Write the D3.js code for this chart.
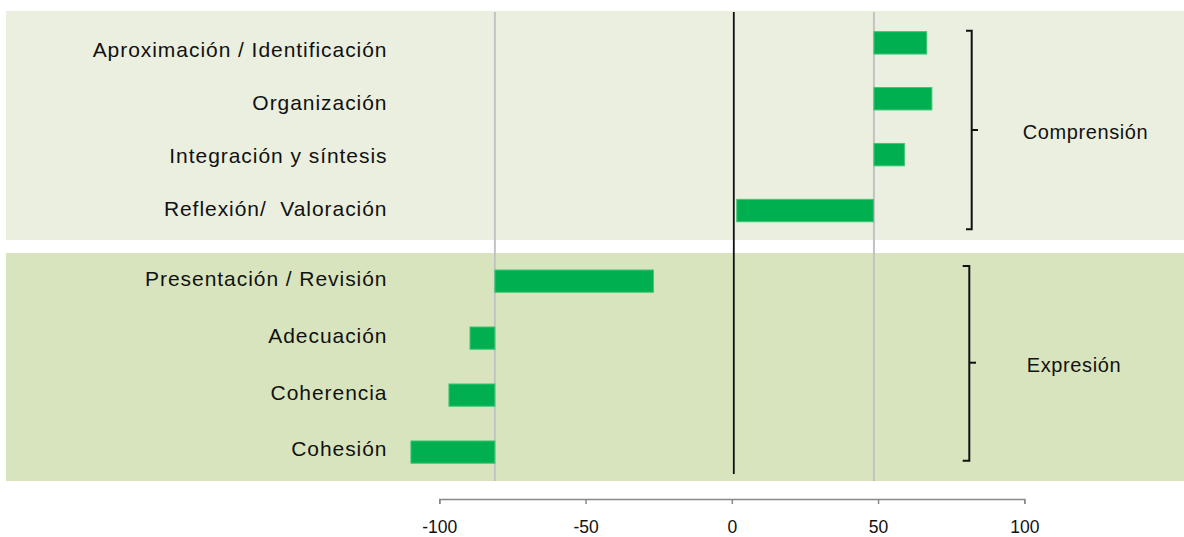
<!DOCTYPE html>
<html>
<head>
<meta charset="utf-8">
<script src="https://cdn.jsdelivr.net/npm/d3@7"></script>
<style>
  html, body { margin: 0; padding: 0; background: #fff; }
  svg { display: block; }
  text { font-family: "Liberation Sans", Arial, sans-serif; fill: #111; }
</style>
</head>
<body>
<svg id="chart" width="1184" height="537"></svg>
<script>
// ---- Data ----
const categoriesTop = ["Aproximación / Identificación", "Organización", "Integración y síntesis", "Reflexión/  Valoración"];
const startTop = [48.6, 48.6, 48.6, 1.7];
const endTop = [66.6, 68.4, 59.0, 48.4];

const categoriesBottom = ["Presentación / Revisión", "Adecuación", "Coherencia", "Cohesión"];
const startBottom = [-81, -89.5, -96.7, -109.7];
const endBottom = [-26.8, -81, -81, -81];

const groupLabels = ["Comprensión", "Expresión"];
const referenceLines = [-81, 48.6];
const xTicks = [-100, -50, 0, 50, 100];

// ---- Layout ----
const W = 1184, H = 537;
const svg = d3.select("#chart");

const x = d3.scaleLinear().domain([-100, 100]).range([439.3, 1024.3]);

const yTop = d3.scaleBand().domain(categoriesTop).range([14.9, 238.5])
  .paddingInner(0.6).paddingOuter(0.3);
const yBot = d3.scaleBand().domain(categoriesBottom).range([252.9, 480.3])
  .paddingInner(0.61).paddingOuter(0.3);

// label positions (category axis text)
const yTopLabel = d3.scalePoint().domain(categoriesTop).range([49.7, 208.4]);
const yBotLabel = d3.scalePoint().domain(categoriesBottom).range([278.3, 448.9]);

// panels
svg.append("rect").attr("x", 6).attr("y", 11).attr("width", W - 6).attr("height", 229)
  .attr("fill", "#EBEFDF");
svg.append("rect").attr("x", 6).attr("y", 253).attr("width", W - 6).attr("height", 228)
  .attr("fill", "#D8E4BD");

// reference lines
svg.selectAll("line.ref").data(referenceLines).join("line")
  .attr("class", "ref")
  .attr("x1", d => x(d)).attr("x2", d => x(d))
  .attr("y1", 12).attr("y2", 481)
  .attr("stroke", "#C3C3C3").attr("stroke-width", 2);

// zero line
svg.append("line")
  .attr("x1", x(0) + 2).attr("x2", x(0) + 2)
  .attr("y1", 12).attr("y2", 474)
  .attr("stroke", "#111").attr("stroke-width", 1.8);

// bars
function drawBars(cats, starts, ends, y) {
  const data = cats.map((c, i) => ({ c, s: starts[i], e: ends[i] }));
  svg.append("g").selectAll("rect").data(data).join("rect")
    .attr("x", d => x(Math.min(d.s, d.e)))
    .attr("width", d => Math.abs(x(d.e) - x(d.s)))
    .attr("y", d => y(d.c))
    .attr("height", y.bandwidth())
    .attr("fill", "#00B050")
    .attr("stroke", "#3DC575")
    .attr("stroke-width", 1);
}
drawBars(categoriesTop, startTop, endTop, yTop);
drawBars(categoriesBottom, startBottom, endBottom, yBot);

// category labels
function drawLabels(cats, y) {
  svg.append("g").selectAll("text").data(cats).join("text")
    .attr("x", 387.5)
    .attr("y", d => y(d))
    .attr("text-anchor", "end")
    .attr("dominant-baseline", "central")
    .attr("font-size", "21px")
    .attr("letter-spacing", "0.95px")
    .style("white-space", "pre")
    .text(d => d);
}
drawLabels(categoriesTop, yTopLabel);
drawLabels(categoriesBottom, yBotLabel);

// brackets
function bracket(xv, y0, y1, ym, serifLeft, tickRight) {
  svg.append("path")
    .attr("d", `M${serifLeft},${y0} H${xv} V${y1} H${serifLeft}`)
    .attr("fill", "none").attr("stroke", "#111").attr("stroke-width", 2);
  svg.append("path")
    .attr("d", `M${xv},${ym} H${tickRight}`)
    .attr("fill", "none").attr("stroke", "#111").attr("stroke-width", 2);
}
bracket(971.7, 30.7, 229.3, 130, 966, 978);
bracket(969.3, 266, 460.7, 362.7, 962.7, 976);

svg.append("text").attr("x", 1085.5).attr("y", 131.5)
  .attr("text-anchor", "middle").attr("dominant-baseline", "central")
  .attr("font-size", "20px").attr("letter-spacing", "0.6px")
  .text(groupLabels[0]);
svg.append("text").attr("x", 1074).attr("y", 365)
  .attr("text-anchor", "middle").attr("dominant-baseline", "central")
  .attr("font-size", "20px").attr("letter-spacing", "0.6px")
  .text(groupLabels[1]);

// x axis
const axis = d3.axisBottom(x).tickValues(xTicks).tickSize(5).tickSizeOuter(5).tickPadding(16.5)
  .tickFormat(d => String(d));
const gAxis = svg.append("g").attr("transform", "translate(0,499)").call(axis);
gAxis.select(".domain").attr("stroke", "#888").attr("stroke-width", 1.5);
gAxis.selectAll(".tick line").attr("stroke", "#888").attr("stroke-width", 1.5);
gAxis.selectAll(".tick text")
  .attr("font-family", "Liberation Sans, Arial, sans-serif")
  .attr("font-size", "17.5px")
  .attr("fill", "#111");
</script>
</body>
</html>
